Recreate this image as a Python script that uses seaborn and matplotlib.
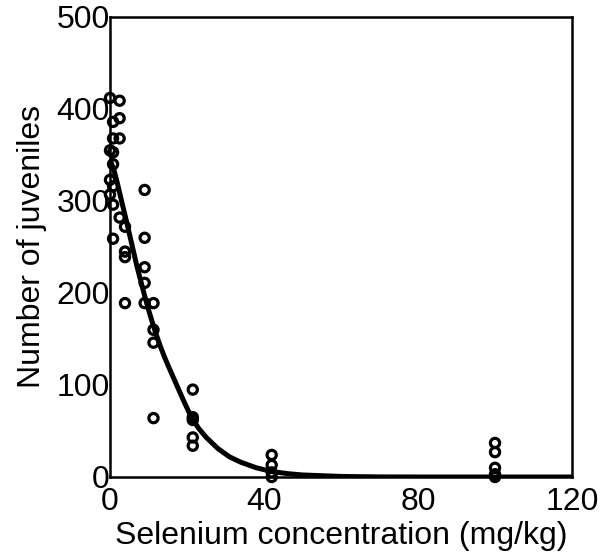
import numpy as np
import pandas as pd
import matplotlib
matplotlib.use("Agg")
import matplotlib.pyplot as plt
import seaborn as sns

# =========================
# Data
# =========================
conc_0 = [0.0] * 4
juv_0 = [412, 355, 323, 307]
conc_1 = [0.8] * 7
juv_1 = [386, 368, 353, 340, 316, 296, 259]
conc_2 = [2.5] * 4
juv_2 = [409, 390, 368, 282]
conc_4 = [3.9] * 4
juv_4 = [272, 245, 239, 189]
conc_9 = [9.0] * 5
juv_9 = [312, 260, 228, 211, 189]
conc_11 = [11.3] * 4
juv_11 = [189, 160, 146, 64]
conc_21 = [21.5] * 5
juv_21 = [95, 65, 62, 43, 34]
conc_42 = [42.0] * 4
juv_42 = [24, 13, 5, 0]
conc_100 = [100.0] * 5
juv_100 = [37, 27, 10, 3, 0]

# fitted response curve
curve_x = [0, 1, 2, 3, 4, 5, 6, 7, 8, 9, 10, 11, 12, 13, 14, 15, 17, 19, 21,
           23, 25, 28, 31, 34, 38, 42, 46, 50, 60, 70, 80, 100, 120]
curve_y = [345, 334, 318, 300, 283, 265, 247, 229, 213, 197, 182, 168, 155,
           143, 132, 122, 103, 84, 66, 53, 43, 31, 22, 16, 10, 6, 3.7, 2.2,
           0.6, 0.1, 0, 0, 0]

x_ticks = [0, 40, 80, 120]
y_ticks = [0, 100, 200, 300, 400, 500]

points = pd.DataFrame({
    "conc": conc_0 + conc_1 + conc_2 + conc_4 + conc_9 + conc_11 + conc_21 + conc_42 + conc_100,
    "juveniles": juv_0 + juv_1 + juv_2 + juv_4 + juv_9 + juv_11 + juv_21 + juv_42 + juv_100,
})
curve = pd.DataFrame({"conc": curve_x, "juveniles": curve_y})

# =========================
# Plot
# =========================
sns.set_style("white")
plt.rcParams["font.family"] = ["Liberation Sans", "DejaVu Sans"]
plt.rcParams["axes.labelcolor"] = "black"
plt.rcParams["text.color"] = "black"

fig = plt.figure(figsize=(6.05, 5.59), dpi=100)
ax = fig.add_axes([0.1818, 0.1467, 0.7637, 0.8229])

sns.lineplot(data=curve, x="conc", y="juveniles", color="black",
             linewidth=3.6, ax=ax, zorder=3)
sns.scatterplot(data=points, x="conc", y="juveniles", marker="o",
                s=44, facecolors="none", edgecolor="black", linewidth=2.3,
                ax=ax, zorder=4, clip_on=False)

ax.set_xlim(0, 120)
ax.set_ylim(0, 500)
ax.set_xticks(x_ticks)
ax.set_yticks(y_ticks)
ax.tick_params(axis="both", direction="in", length=10, width=1.5,
               color="black", labelsize=23, labelcolor="black")
ax.tick_params(axis="y", pad=0)
ax.tick_params(axis="x", pad=7)

for sp in ax.spines.values():
    sp.set_visible(True)
    sp.set_color("black")
    sp.set_linewidth(1.8)

ax.set_xlabel("Selenium concentration (mg/kg)", fontsize=23, labelpad=3)
ax.set_ylabel("Number of juveniles", fontsize=23, labelpad=7)

fig.savefig("out.png", dpi=100)
